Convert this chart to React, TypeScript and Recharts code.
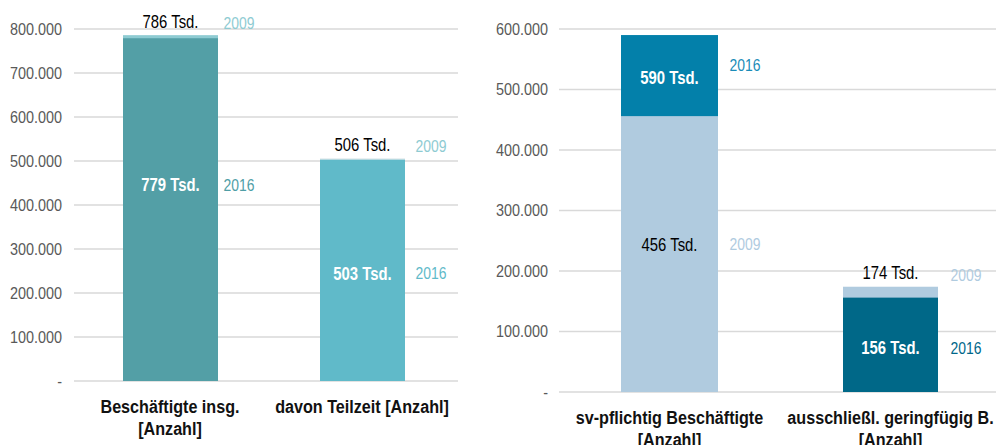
import React from "react";
import { BarChart, Bar, XAxis, YAxis, CartesianGrid, LabelList } from "recharts";

const FONT = "'Liberation Sans', Arial, sans-serif";

// ---- data ----
const years = ["2009", "2016"];

const leftCategories = ["Beschäftigte insg.\n[Anzahl]", "davon Teilzeit [Anzahl]"];
const left2009 = [786000, 506000];
const left2016 = [779000, 503000];
const leftTicks = [0, 100000, 200000, 300000, 400000, 500000, 600000, 700000, 800000];

const rightCategories = ["sv-pflichtig Beschäftigte\n[Anzahl]", "ausschließl. geringfügig B.\n[Anzahl]"];
const right2009 = [456000, 174000];
const right2016 = [590000, 156000];
const rightTicks = [0, 100000, 200000, 300000, 400000, 500000, 600000];

// ---- styles ----
const LEFT_STYLE = {
  fill: [["#8ecbd2", "#dde8eb"], ["#539fa6", "#60bac9"]],
  yearColor: [["#8ecbd2", "#8ecbd2"], ["#4f9ea6", "#5fbac9"]],
  barWidths: [95, 85],
  frontDy: [-25, 3],
  yearOffset: 53,
};
const RIGHT_STYLE = {
  fill: [["#b0cbdf", "#b0cbdf"], ["#0380aa", "#006888"]],
  yearColor: [["#b0cbdf", "#b0cbdf"], ["#1a8cb8", "#00678a"]],
  barWidths: [97, 95],
  frontDy: [-10, 3],
  yearOffset: 60,
};

type Row = { name: string; back: number; front: number; backYear: number; frontYear: number };

function buildRows(cats: string[], v09: number[], v16: number[]): Row[] {
  return cats.map((name, i) => {
    const backIs09 = v09[i] >= v16[i];
    return {
      name,
      back: backIs09 ? v09[i] : v16[i],
      front: backIs09 ? v16[i] : v09[i],
      backYear: backIs09 ? 0 : 1,
      frontYear: backIs09 ? 1 : 0,
    };
  });
}

const leftRows = buildRows(leftCategories, left2009, left2016);
const rightRows = buildRows(rightCategories, right2009, right2016);

const fmtTick = (v: number) => (v === 0 ? "-" : String(v).replace(/\B(?=(\d{3})+(?!\d))/g, "."));
const fmtTsd = (v: number) => `${Math.round(v / 1000)} Tsd.`;

// condensed text (emulates a narrow font)
function NText(p: {
  x: number; y: number; anchor?: string; size: number; weight?: string; fill: string;
  sx?: number; baseline?: string; children: any;
}) {
  const sx = p.sx ?? 0.85;
  return (
    <g transform={`translate(${p.x},${p.y}) scale(${sx},1)`}>
      <text x={0} y={0} textAnchor={p.anchor ?? "middle"} dominantBaseline={p.baseline ?? "central"}
        fontFamily={FONT} fontSize={p.size} fontWeight={p.weight ?? "normal"} fill={p.fill}>
        {p.children}
      </text>
    </g>
  );
}

function makeShape(style: any, rows: Row[], layer: "back" | "front") {
  return (props: any) => {
    const { x, y, width, height, index } = props;
    const row = rows[index];
    const yr = layer === "back" ? row.backYear : row.frontYear;
    const w = style.barWidths[index];
    const cx = x + width / 2;
    if (!height || height <= 0) return <g />;
    return <rect x={cx - w / 2} y={y} width={w} height={height} fill={style.fill[yr][index]} />;
  };
}

function makeLabel(style: any, rows: Row[], layer: "back" | "front") {
  return (props: any) => {
    const { x, y, width, height, index } = props;
    const row = rows[index];
    const cx = x + width / 2;
    const yr = layer === "back" ? row.backYear : row.frontYear;
    const value = layer === "back" ? row.back : row.front;
    let vy: number;
    let yy: number;
    let bold = false;
    let color = "#000";
    if (layer === "back") {
      if (yr === 0) {
        vy = y - 14;
        yy = vy + 2;
      } else {
        const segBottom = y + height - (height * row.front) / row.back;
        vy = (y + segBottom) / 2 + 2;
        yy = vy - 13;
        bold = true;
        color = "#fff";
      }
    } else {
      vy = y + height / 2 + style.frontDy[index];
      yy = vy;
      if (yr === 1) {
        bold = true;
        color = "#fff";
      }
    }
    return (
      <g>
        <NText x={cx} y={vy} size={17.5} weight={bold ? "bold" : "normal"} fill={color}>
          {fmtTsd(value)}
        </NText>
        <NText x={cx + style.yearOffset} y={yy} anchor="start" size={16.8} sx={0.83} fill={style.yearColor[yr][index]}>
          {years[yr]}
        </NText>
      </g>
    );
  };
}

const CatTick = (props: any) => {
  const { x, y, payload } = props;
  const lines = String(payload.value).split("\n");
  return (
    <g>
      {lines.map((l, i) => (
        <NText key={i} x={x} y={y + 32 + i * 22} baseline="auto" size={19} weight="bold" fill="#111">
          {l}
        </NText>
      ))}
    </g>
  );
};

const ValTick = (props: any) => {
  const { x, y, payload } = props;
  return (
    <NText x={x} y={y} anchor="end" size={16} sx={0.9} fill="#595959">
      {fmtTick(payload.value)}
    </NText>
  );
};

function Panel(props: {
  rows: Row[]; style: any; ticks: number[]; width: number; height: number;
  margin: any; yWidth: number; tickMargin: number; xHeight: number;
}) {
  const { rows, style, ticks, width, height, margin, yWidth, tickMargin, xHeight } = props;
  return (
    <BarChart width={width} height={height} data={rows} margin={margin} barGap={0} barCategoryGap={0}>
      <CartesianGrid vertical={false} stroke="#d9d9d9" strokeWidth={1.5} />
      <XAxis dataKey="name" interval={0} tickLine={false} axisLine={false} tickSize={0} tickMargin={0}
        height={xHeight} tick={<CatTick />} />
      <XAxis xAxisId="b" dataKey="name" hide />
      <YAxis domain={[0, ticks[ticks.length - 1]]} ticks={ticks} interval={0} width={yWidth}
        tickLine={false} axisLine={false} tickMargin={tickMargin} tick={<ValTick />} />
      <Bar dataKey="back" barSize={Math.max(...style.barWidths)} isAnimationActive={false}
        shape={makeShape(style, rows, "back")}>
        <LabelList dataKey="back" content={makeLabel(style, rows, "back")} />
      </Bar>
      <Bar dataKey="front" xAxisId="b" barSize={Math.max(...style.barWidths)} isAnimationActive={false}
        shape={makeShape(style, rows, "front")}>
        <LabelList dataKey="front" content={makeLabel(style, rows, "front")} />
      </Bar>
    </BarChart>
  );
}

export default function App() {
  return (
    <div style={{ position: "absolute", left: 0, top: 0, width: 996, height: 445, overflow: "hidden", background: "#fff" }}>
      <div style={{ position: "absolute", left: 0, top: 0 }}>
        <Panel rows={leftRows} style={LEFT_STYLE} ticks={leftTicks} width={480} height={445}
          margin={{ top: 29, right: 22, bottom: 10, left: 0 }} yWidth={74} tickMargin={6} xHeight={54} />
      </div>
      <div style={{ position: "absolute", left: 480, top: 0 }}>
        <Panel rows={rightRows} style={RIGHT_STYLE} ticks={rightTicks} width={540} height={445}
          margin={{ top: 29, right: 19, bottom: 10, left: 0 }} yWidth={79} tickMargin={5} xHeight={43} />
      </div>
    </div>
  );
}
